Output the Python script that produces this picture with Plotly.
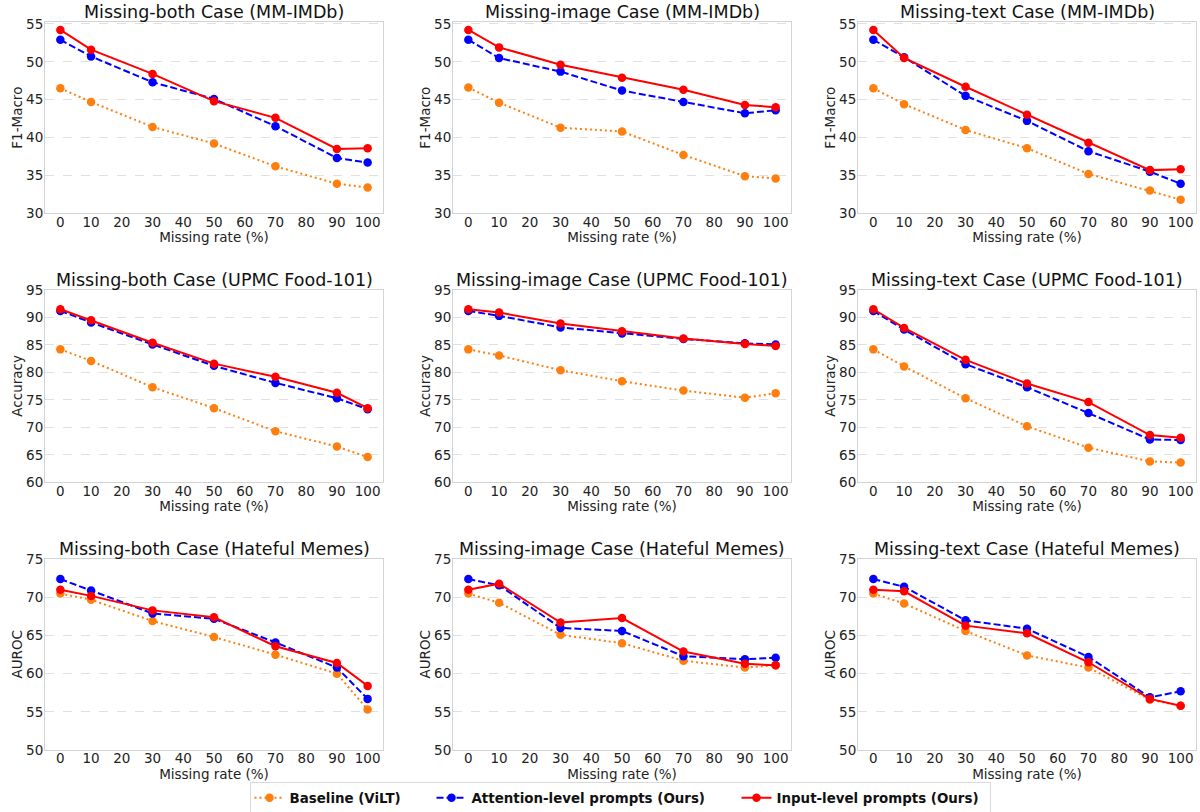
import plotly.graph_objects as go
from plotly.subplots import make_subplots

rates = [0, 10, 30, 50, 70, 90, 100]
x_ticks = [0, 10, 20, 30, 40, 50, 60, 70, 80, 90, 100]

titles = [
    "Missing-both Case (MM-IMDb)", "Missing-image Case (MM-IMDb)", "Missing-text Case (MM-IMDb)",
    "Missing-both Case (UPMC Food-101)", "Missing-image Case (UPMC Food-101)", "Missing-text Case (UPMC Food-101)",
    "Missing-both Case (Hateful Memes)", "Missing-image Case (Hateful Memes)", "Missing-text Case (Hateful Memes)",
]
row_ylabels = ["F1-Macro", "Accuracy", "AUROC"]
row_yticks = [[30, 35, 40, 45, 50, 55], [60, 65, 70, 75, 80, 85, 90, 95], [50, 55, 60, 65, 70, 75]]

# MM-IMDb (F1-Macro)
imdb_both_base = [46.5, 44.7, 41.4, 39.2, 36.2, 33.9, 33.4]
imdb_both_attn = [52.9, 50.7, 47.3, 45.1, 41.5, 37.3, 36.7]
imdb_both_input = [54.2, 51.6, 48.4, 44.8, 42.6, 38.5, 38.6]
imdb_image_base = [46.6, 44.6, 41.3, 40.8, 37.7, 34.9, 34.6]
imdb_image_attn = [52.9, 50.5, 48.7, 46.2, 44.7, 43.2, 43.6]
imdb_image_input = [54.2, 51.9, 49.6, 47.9, 46.3, 44.3, 44.0]
imdb_text_base = [46.5, 44.4, 41.0, 38.6, 35.2, 33.0, 31.8]
imdb_text_attn = [52.9, 50.6, 45.5, 42.2, 38.2, 35.5, 33.9]
imdb_text_input = [54.2, 50.5, 46.7, 43.0, 39.3, 35.7, 35.8]

# UPMC Food-101 (Accuracy)
food_both_base = [84.2, 82.1, 77.3, 73.5, 69.3, 66.5, 64.6]
food_both_attn = [91.2, 89.1, 85.1, 81.2, 78.1, 75.3, 73.3]
food_both_input = [91.5, 89.5, 85.4, 81.6, 79.2, 76.3, 73.5]
food_image_base = [84.2, 83.1, 80.4, 78.4, 76.7, 75.4, 76.2]
food_image_attn = [91.2, 90.3, 88.2, 87.1, 86.1, 85.3, 85.1]
food_image_input = [91.5, 90.9, 88.9, 87.5, 86.2, 85.2, 84.8]
food_text_base = [84.2, 81.1, 75.3, 70.2, 66.3, 63.8, 63.6]
food_text_attn = [91.2, 87.8, 81.5, 77.3, 72.6, 67.8, 67.7]
food_text_input = [91.5, 88.1, 82.3, 78.0, 74.6, 68.6, 68.1]

# Hateful Memes (AUROC)
hm_both_base = [70.5, 69.7, 66.9, 64.8, 62.5, 60.0, 55.3]
hm_both_attn = [72.4, 70.9, 67.9, 67.2, 64.1, 60.8, 56.7]
hm_both_input = [71.0, 70.2, 68.3, 67.4, 63.6, 61.4, 58.4]
hm_image_base = [70.5, 69.3, 65.1, 64.0, 61.7, 60.8, 61.1]
hm_image_attn = [72.4, 71.6, 66.0, 65.6, 62.3, 61.9, 62.1]
hm_image_input = [71.0, 71.8, 66.7, 67.3, 62.9, 61.3, 61.1]
hm_text_base = [70.5, 69.2, 65.6, 62.4, 60.8, 56.6, 55.8]
hm_text_attn = [72.4, 71.4, 67.0, 65.9, 62.2, 56.9, 57.7]
hm_text_input = [71.0, 70.8, 66.3, 65.3, 61.5, 56.7, 55.8]

panels = [
    (imdb_both_base, imdb_both_attn, imdb_both_input),
    (imdb_image_base, imdb_image_attn, imdb_image_input),
    (imdb_text_base, imdb_text_attn, imdb_text_input),
    (food_both_base, food_both_attn, food_both_input),
    (food_image_base, food_image_attn, food_image_input),
    (food_text_base, food_text_attn, food_text_input),
    (hm_both_base, hm_both_attn, hm_both_input),
    (hm_image_base, hm_image_attn, hm_image_input),
    (hm_text_base, hm_text_attn, hm_text_input),
]

series_names = ["Baseline (ViLT)", "Attention-level prompts (Ours)", "Input-level prompts (Ours)"]
series_colors = ["#ff7f0e", "#0000ff", "#ff0000"]
series_dash = ["2px,3px", "7px,3px", "solid"]
legend_widths = [137, 260, 208]

W, H = 1200, 812
col_px = [(45, 383), (453, 791), (858, 1196)]
row_px = [(22, 213.3), (289.5, 482.3), (558.5, 750)]
row_ranges = [[30, 55.25], [60, 95.1], [50, 75.1]]

FONT = "DejaVu Sans"

fig = make_subplots(rows=3, cols=3)

for i, (base, attn, inp) in enumerate(panels):
    r, c = i // 3 + 1, i % 3 + 1
    for k, vals in enumerate([base, attn, inp]):
        fig.add_trace(
            go.Scatter(
                x=rates, y=vals, mode="lines+markers", name=series_names[k],
                line=dict(color=series_colors[k], width=2, dash=series_dash[k]),
                marker=dict(color=series_colors[k], size=8.5),
                showlegend=(i == 0), legendgroup=series_names[k],
                legendwidth=legend_widths[k],
            ),
            row=r, col=c,
        )

layout_updates = {}
annotations = []
for i in range(9):
    r, c = i // 3, i % 3
    idx = "" if i == 0 else str(i + 1)
    x0, x1 = col_px[c]
    ytop, ybot = row_px[r]
    layout_updates["xaxis" + idx] = dict(
        domain=[x0 / W, x1 / W], range=[-5, 105], tickmode="array", tickvals=x_ticks,
        showgrid=False, zeroline=False, showline=True, mirror=True, linecolor="#d3d3d3", linewidth=1,
        ticks="", ticklen=0, ticklabelstandoff=-4,
        tickfont=dict(family=FONT, size=13.5, color="#222"), automargin=False,
        title=dict(text="Missing rate (%)", font=dict(family=FONT, size=13.5, color="#222"), standoff=0),
    )
    layout_updates["yaxis" + idx] = dict(
        domain=[1 - ybot / H, 1 - ytop / H], range=row_ranges[r], tickmode="array", tickvals=row_yticks[r],
        showgrid=True, gridcolor="#e0e0e0", griddash="dash", gridwidth=1, zeroline=False,
        showline=True, mirror=True, linecolor="#d3d3d3", linewidth=1,
        ticks="", ticklen=0, ticklabelstandoff=-2,
        tickfont=dict(family=FONT, size=13.5, color="#222"), automargin=False,
        title=dict(text=row_ylabels[r], font=dict(family=FONT, size=13.5, color="#222"), standoff=0),
    )
    annotations.append(dict(
        text=titles[i], x=(x0 + x1) / 2 / W, y=1 - (ytop - 9.5) / H, xref="paper", yref="paper",
        xanchor="center", yanchor="middle", showarrow=False,
        font=dict(family=FONT, size=17.5, color="#111"),
    ))

fig.update_layout(**layout_updates)
fig.update_layout(
    width=W, height=H, margin=dict(l=0, r=0, t=0, b=0, autoexpand=False),
    paper_bgcolor="white", plot_bgcolor="white",
    annotations=annotations,
    legend=dict(
        orientation="h", x=620 / W, xanchor="center", y=1 - 798 / H, yanchor="middle",
        font=dict(family=FONT, size=13.4, color="#111", weight="bold"),
        bordercolor="#d9d9d9", borderwidth=1, bgcolor="white",
        itemwidth=30,
    ),
    font=dict(family=FONT),
)

fig.write_html(
    "out.html",
    config={"displayModeBar": False},
    post_script="document.body.style.margin='0px';document.body.style.padding='0px';",
)
